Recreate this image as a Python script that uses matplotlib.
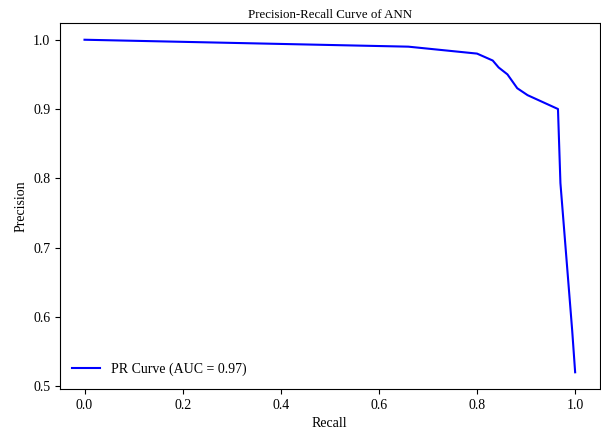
import numpy as np
import matplotlib.pyplot as plt

plt.rcParams['font.family'] = ['Liberation Serif', 'DejaVu Serif']

# Puntos de la curva PR
recall = [0.0, 0.66, 0.80, 0.832, 0.844, 0.862, 0.882, 0.903, 0.965, 0.970, 0.994, 1.0]
precision = [1.0, 0.99, 0.98, 0.97, 0.96, 0.95, 0.93, 0.92, 0.90, 0.793, 0.58, 0.52]
auc = 0.97

fig = plt.figure(figsize=(6.01, 4.36), dpi=100)
ax = fig.add_axes([0.0998, 0.108, 0.898, 0.839])

ax.plot(recall, precision, color='blue', linewidth=1.5, label=f"PR Curve (AUC = {auc:.2f})")
ax.set_title("Precision-Recall Curve of ANN", fontsize=9.3, pad=4)
ax.set_xlabel("Recall", fontsize=10)
ax.set_ylabel("Precision", fontsize=10)
ax.tick_params(labelsize=10)
ax.legend(loc='lower left', frameon=False, fontsize=10)

fig.savefig("out.png", dpi=100)
